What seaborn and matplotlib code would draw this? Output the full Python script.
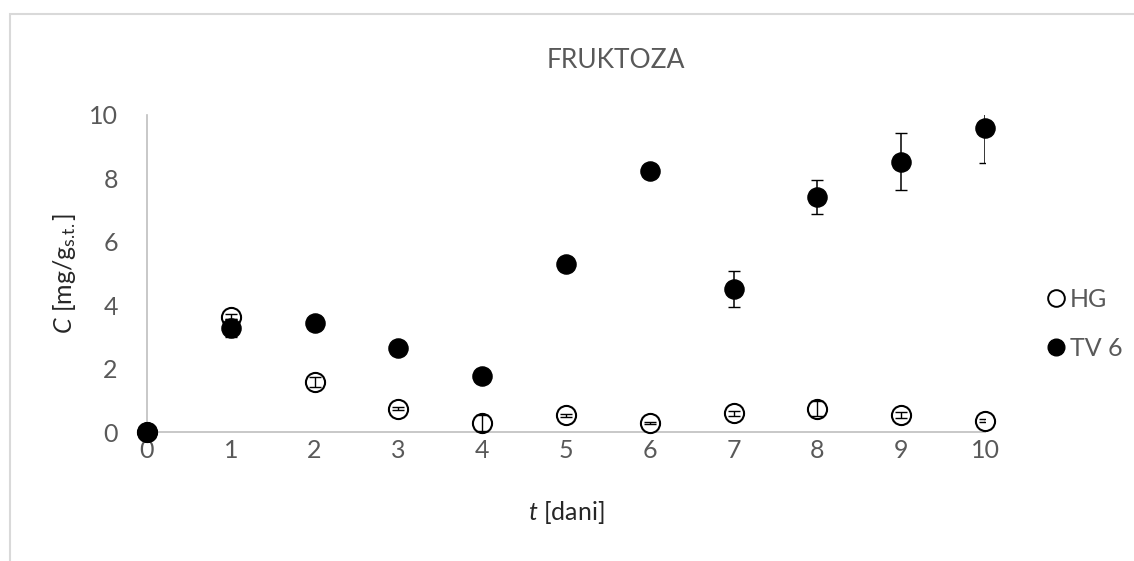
import numpy as np
import pandas as pd
import matplotlib
matplotlib.use("Agg")
import matplotlib.pyplot as plt
import seaborn as sns
from matplotlib.patches import Rectangle
from matplotlib.lines import Line2D

days = [0, 1, 2, 3, 4, 5, 6, 7, 8, 9, 10]
hg_vals = [0.0, 3.63, 1.58, 0.74, 0.29, 0.53, 0.27, 0.59, 0.74, 0.53, 0.36]
hg_err = [0.0, 0.08, 0.15, 0.05, 0.25, 0.05, 0.03, 0.08, 0.25, 0.10, 0.05]
tv_vals = [0.0, 3.27, 3.44, 2.64, 1.76, 5.30, 8.22, 4.52, 7.42, 8.52, 9.60]
tv_err = [0.0, 0.28, 0.05, 0.05, 0.05, 0.05, 0.05, 0.57, 0.54, 0.90, 1.12]
series_names = ["HG", "TV 6"]
x_ticks = list(range(0, 11))
y_ticks = [0, 2, 4, 6, 8, 10]

sns.set_theme(style="white")
plt.rcParams['font.family'] = ['Lato', 'DejaVu Sans']
plt.rcParams['mathtext.fontset'] = 'custom'
plt.rcParams['mathtext.rm'] = 'Lato'
plt.rcParams['mathtext.it'] = 'Lato:italic'

W, H = 1134, 561
fig = plt.figure(figsize=(W / 100, H / 100), dpi=100)
ax = fig.add_axes([147 / W, 1 - 432 / H, (985 - 147) / W, (432 - 115) / H])

df_hg = pd.DataFrame({"t": days, "C": hg_vals, "s": series_names[0]})
df_tv = pd.DataFrame({"t": days, "C": tv_vals, "s": series_names[1]})

ms = 190
sns.scatterplot(data=df_hg, x="t", y="C", ax=ax, s=ms, marker="o",
                facecolor="white", edgecolor="black", linewidth=1.5,
                zorder=3, clip_on=False, legend=False)
ax.errorbar(days, hg_vals, yerr=hg_err, fmt="none", ecolor="black",
            elinewidth=1.0, capsize=4.5, capthick=1.0, zorder=4)
sns.scatterplot(data=df_tv, x="t", y="C", ax=ax, s=ms, marker="o",
                color="black", edgecolor="black", linewidth=1.0,
                zorder=5, clip_on=False, legend=False)
ax.errorbar(days, tv_vals, yerr=tv_err, fmt="none", ecolor="black",
            elinewidth=1.1, capsize=4.5, capthick=1.0, zorder=6)

ax.set_xlim(0, 10)
ax.set_ylim(0, 10)
ax.set_xticks(x_ticks)
ax.set_yticks(y_ticks)
tick_col = "#595959"
ax.tick_params(axis="both", length=0, labelsize=18, colors=tick_col)
ax.tick_params(axis="x", pad=5)
ax.tick_params(axis="y", pad=21)
for sp in ["top", "right"]:
    ax.spines[sp].set_visible(False)
for sp in ["left", "bottom"]:
    ax.spines[sp].set_color("#BFBFBF")
    ax.spines[sp].set_linewidth(1.2)
ax.grid(False)

ax.set_xlabel(r"$t$ [dani]", fontsize=18, color="#262626", labelpad=27)
ax.set_ylabel(r"$C$ [mg/g$_{\mathrm{s.\!t.}}$]", fontsize=18, color="#262626", labelpad=8)

fig.text(616 / W, 1 - 61 / H, "FRUKTOZA", ha="center", va="center",
         fontsize=19, color=tick_col)

handles = [
    Line2D([], [], marker="o", linestyle="none", markersize=12,
           markerfacecolor="white", markeredgecolor="black", markeredgewidth=1.4),
    Line2D([], [], marker="o", linestyle="none", markersize=12,
           markerfacecolor="black", markeredgecolor="black"),
]
leg = fig.legend(handles, series_names, loc="center left",
                 bbox_to_anchor=(1031 / W, 1 - 324 / H), frameon=False,
                 fontsize=18, handletextpad=0.05, handlelength=1.0,
                 labelspacing=1.05, borderpad=0)
for t in leg.get_texts():
    t.set_color(tick_col)

fig.patches.append(Rectangle((9.5, -20), 1300, H - 13.5 + 20, transform=None,
                             fill=False, edgecolor="#D9D9D9", linewidth=1.5))

fig.savefig("out.png", dpi=100)
